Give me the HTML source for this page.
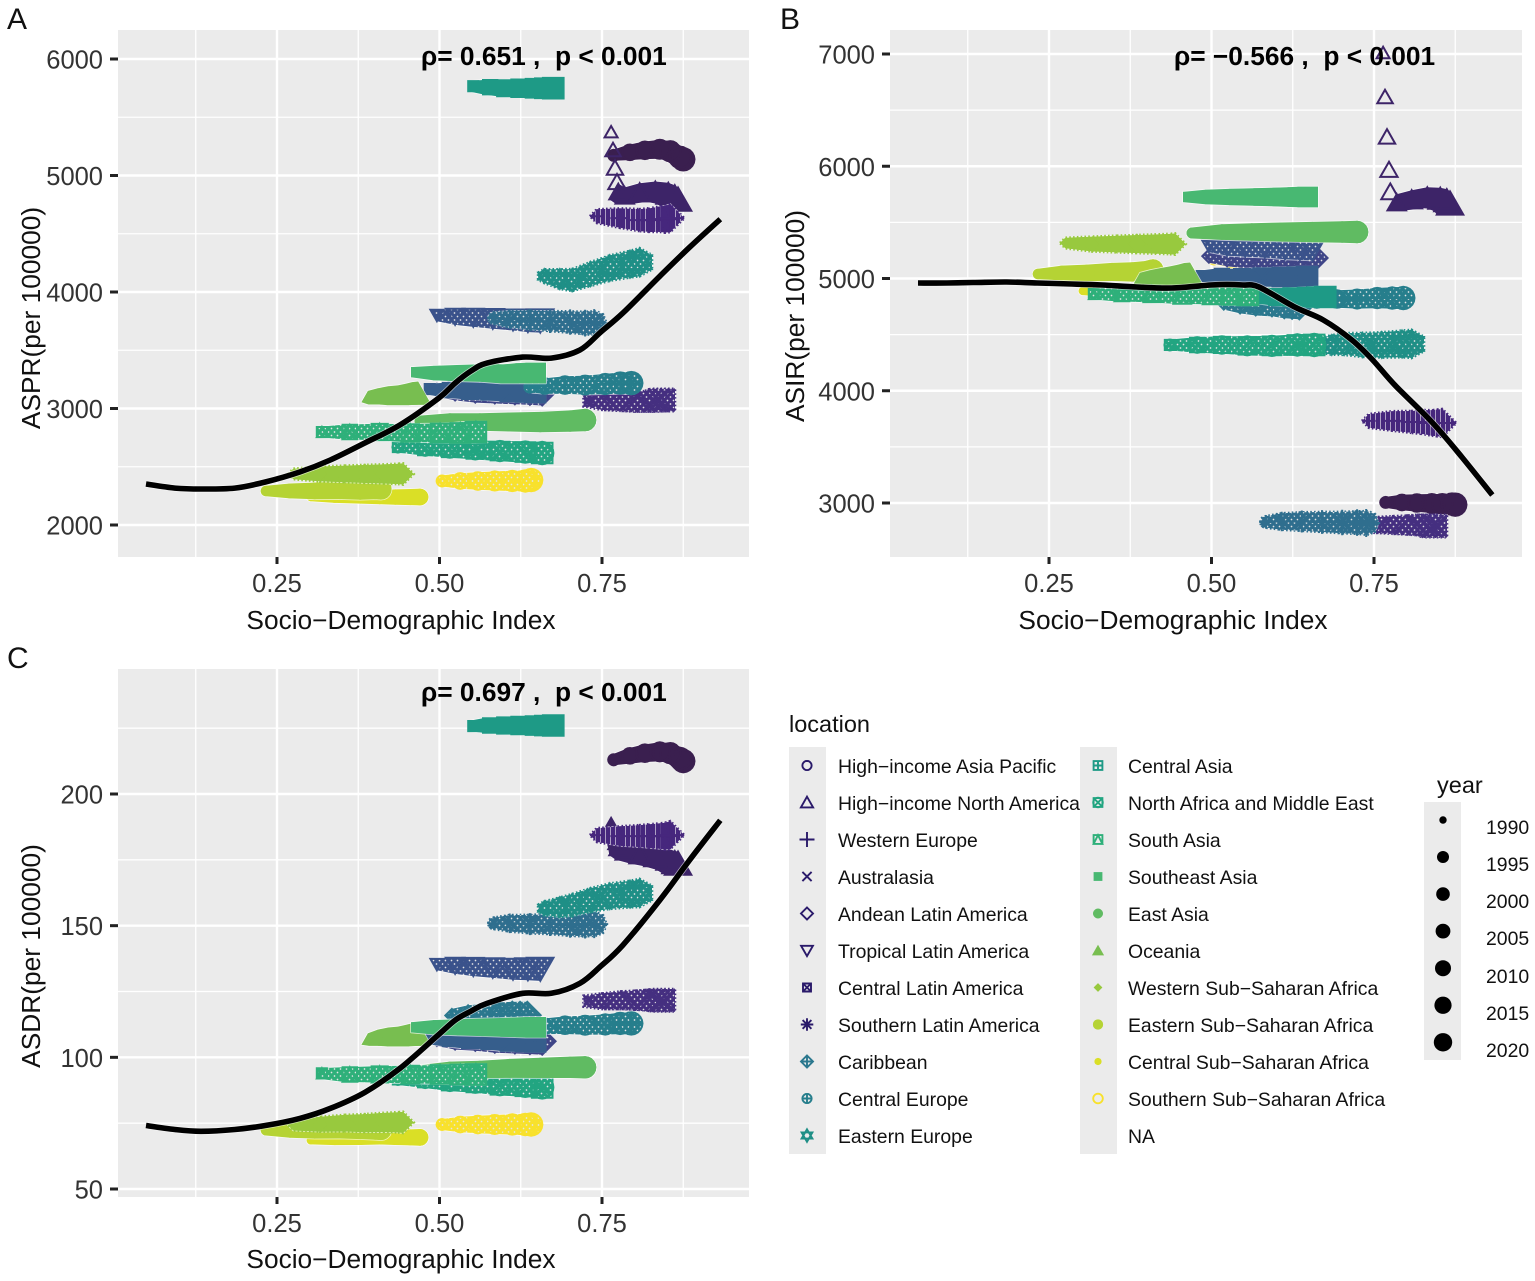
<!DOCTYPE html>
<html lang="en">
<head>
<meta charset="utf-8">
<title>SDI correlation panels</title>
<style>
html,body{margin:0;padding:0;background:#fff;width:1535px;height:1281px;overflow:hidden}
svg{display:block}
text{font-family:"Liberation Sans",Arial,sans-serif;white-space:pre}
.tick{font-size:25.5px;fill:#333}
.title{font-size:26.3px;fill:#111}
.anno{font-size:26.3px;font-weight:bold;fill:#000}
.tag{font-size:30px;fill:#111}
.leg{font-size:19.4px;fill:#111}
.legt{font-size:23.5px;fill:#111}
</style>
</head>
<body>
<svg id="chart" xmlns="http://www.w3.org/2000/svg" width="1535" height="1281" viewBox="0 0 1535 1281">
  <defs>
    <pattern id="dots" width="6" height="7" patternUnits="userSpaceOnUse">
      <circle cx="1.5" cy="1.5" r="0.85" fill="#e4e4e4"/>
      <circle cx="4.5" cy="5" r="0.85" fill="#e4e4e4"/>
    </pattern>
    <pattern id="stripes" width="5" height="20" patternUnits="userSpaceOnUse">
      <rect x="0" y="0" width="1" height="20" fill="#cfc6dc" opacity="0.75"/>
    </pattern>
  </defs>

  <text class="tag" x="7" y="29">A</text>
  <text class="tag" x="780" y="29">B</text>
  <text class="tag" x="7" y="668">C</text>

  <g id="panel-a"></g>
  <g id="panel-b"></g>
  <g id="panel-c"></g>

  <text class="anno" x="421" y="65">ρ= 0.651 ,  p &lt; 0.001</text>
  <text class="anno" x="1174" y="65">ρ= −0.566 ,  p &lt; 0.001</text>
  <text class="anno" x="421" y="701">ρ= 0.697 ,  p &lt; 0.001</text>

  <text class="title" x="401" y="629" text-anchor="middle">Socio−Demographic Index</text>
  <text class="title" x="1173" y="629" text-anchor="middle">Socio−Demographic Index</text>
  <text class="title" x="401" y="1268" text-anchor="middle">Socio−Demographic Index</text>
  <text class="title" transform="translate(40,318) rotate(-90)" text-anchor="middle">ASPR(per 100000)</text>
  <text class="title" transform="translate(804,316) rotate(-90)" text-anchor="middle">ASIR(per 100000)</text>
  <text class="title" transform="translate(40,956) rotate(-90)" text-anchor="middle">ASDR(per 100000)</text>

  <g>
    <text class="legt" x="789" y="732">location</text>
    <rect x="789" y="747" width="37" height="407" fill="#ebebeb"/>
    <rect x="1080" y="747" width="37" height="407" fill="#ebebeb"/>
    <g id="legend-keys"></g>
    <text class="leg" x="838" y="773">High−income Asia Pacific</text>
    <text class="leg" x="838" y="810">High−income North America</text>
    <text class="leg" x="838" y="847">Western Europe</text>
    <text class="leg" x="838" y="884">Australasia</text>
    <text class="leg" x="838" y="921">Andean Latin America</text>
    <text class="leg" x="838" y="958">Tropical Latin America</text>
    <text class="leg" x="838" y="995">Central Latin America</text>
    <text class="leg" x="838" y="1032">Southern Latin America</text>
    <text class="leg" x="838" y="1069">Caribbean</text>
    <text class="leg" x="838" y="1106">Central Europe</text>
    <text class="leg" x="838" y="1143">Eastern Europe</text>
    <text class="leg" x="1128" y="773">Central Asia</text>
    <text class="leg" x="1128" y="810">North Africa and Middle East</text>
    <text class="leg" x="1128" y="847">South Asia</text>
    <text class="leg" x="1128" y="884">Southeast Asia</text>
    <text class="leg" x="1128" y="921">East Asia</text>
    <text class="leg" x="1128" y="958">Oceania</text>
    <text class="leg" x="1128" y="995">Western Sub−Saharan Africa</text>
    <text class="leg" x="1128" y="1032">Eastern Sub−Saharan Africa</text>
    <text class="leg" x="1128" y="1069">Central Sub−Saharan Africa</text>
    <text class="leg" x="1128" y="1106">Southern Sub−Saharan Africa</text>
    <text class="leg" x="1128" y="1143">NA</text>
  </g>

  <g>
    <text class="legt" x="1437" y="793">year</text>
    <rect x="1424" y="802" width="37" height="258" fill="#ebebeb"/>
    <g id="year-keys"></g>
    <text class="leg" x="1486" y="834">1990</text>
    <text class="leg" x="1486" y="871">1995</text>
    <text class="leg" x="1486" y="908">2000</text>
    <text class="leg" x="1486" y="945">2005</text>
    <text class="leg" x="1486" y="983">2010</text>
    <text class="leg" x="1486" y="1020">2015</text>
    <text class="leg" x="1486" y="1057">2020</text>
  </g>
</svg>

<script>
// ---------- chart data ----------
const regionNames = ["high-income-asia-pacific","high-income-north-america","western-europe","australasia","andean-latin-america","tropical-latin-america","central-latin-america","southern-latin-america","caribbean","central-europe","eastern-europe","central-asia","north-africa-middle-east","south-asia","southeast-asia","east-asia","oceania","western-ssa","eastern-ssa","central-ssa","southern-ssa"];
const standardYears = [1990,1995,2000,2005,2010,2015,2020];
const hinaYears = [1990,1991,1992,1993,1994,1995,2000,2005,2010,2015,2020];

const sdiValues = [
 [.768,.793,.816,.839,.855,.870,.875],
 [.764,.767,.770,.773,.775,.785,.808,.832,.852,.862,.867],
 [.742,.778,.808,.824,.839,.847,.855],
 [.730,.762,.793,.816,.832,.839,.845],
 [.496,.524,.555,.585,.616,.639,.658],
 [.496,.524,.552,.582,.613,.636,.655],
 [.485,.516,.547,.578,.608,.632,.647],
 [.584,.608,.639,.670,.701,.724,.738],
 [.519,.544,.568,.593,.612,.624,.635],
 [.639,.662,.693,.724,.755,.778,.795],
 [.661,.685,.704,.732,.762,.793,.808],
 [.552,.578,.601,.624,.647,.662,.675],
 [.436,.478,.516,.555,.593,.632,.658],
 [.319,.362,.408,.455,.501,.532,.556],
 [.464,.501,.539,.578,.608,.632,.648],
 [.470,.516,.562,.608,.655,.701,.724],
 [.390,.405,.421,.436,.448,.458,.467],
 [.275,.316,.355,.385,.416,.436,.444],
 [.233,.270,.308,.347,.378,.401,.410],
 [.302,.339,.378,.408,.432,.455,.470],
 [.504,.532,.559,.585,.612,.632,.641]
];
const asprValues = [
 [5173,5199,5216,5225,5208,5156,5139],
 [5372,5218,5064,4943,4857,4823,4849,4857,4840,4814,4789],
 [4651,4634,4617,4617,4625,4625,4634],
 [3064,3055,3055,3055,3064,3073,3073],
 [3158,3150,3141,3141,3141,3141,3141],
 [3802,3793,3785,3776,3767,3759,3759],
 [3167,3158,3150,3150,3141,3141,3141],
 [3776,3767,3759,3750,3742,3733,3733],
 [3201,3201,3201,3193,3193,3193,3193],
 [3184,3193,3201,3201,3210,3218,3218],
 [4136,4111,4102,4154,4205,4239,4256],
 [5767,5758,5749,5749,5749,5749,5749],
 [2669,2661,2652,2644,2635,2626,2618],
 [2798,2798,2798,2790,2790,2790,2798],
 [3312,3304,3304,3304,3296,3304,3304],
 [2892,2892,2884,2884,2884,2892,2901],
 [3098,3098,3107,3107,3115,3124,3124],
 [2438,2438,2438,2438,2438,2438,2438],
 [2292,2292,2292,2300,2300,2309,2309],
 [2240,2240,2240,2240,2240,2240,2240],
 [2378,2378,2378,2378,2378,2378,2386]
];
const asirValues = [
 [3005,3005,3000,2995,2990,2990,2985],
 [7009,6617,6261,5967,5771,5673,5699,5717,5708,5690,5664],
 [3731,3731,3722,3722,3713,3713,3713],
 [2804,2804,2804,2804,2804,2795,2795],
 [5200,5192,5183,5183,5183,5183,5183],
 [5290,5281,5281,5281,5272,5272,5272],
 [5022,5022,5013,5013,5013,5013,5013],
 [2831,2835,2835,2831,2826,2826,2822],
 [4782,4773,4764,4764,4755,4755,4755],
 [4809,4809,4817,4817,4826,4826,4826],
 [4408,4408,4417,4408,4408,4417,4417],
 [4844,4844,4835,4835,4835,4835,4835],
 [4408,4408,4408,4400,4400,4408,4408],
 [4862,4862,4862,4853,4853,4853,4853],
 [5726,5726,5726,5726,5726,5726,5726],
 [5405,5414,5414,5414,5414,5414,5414],
 [4996,4996,5005,5013,5022,5031,5031],
 [5316,5307,5307,5307,5307,5307,5307],
 [5040,5049,5049,5058,5058,5067,5076],
 [4889,4889,4889,4889,4889,4889,4889],
 [5174,5165,5156,5147,5138,5129,5120]
];
const asdrValues = [
 [213,214.5,215.5,216,215.5,213.5,212.5],
 [188.6,186.3,184,181.7,179.5,177.9,176.8,176,174.9,173.8,173.4],
 [184.4,184,184,184,184,184,184.4],
 [121.3,121.3,121.7,121.7,121.7,121.7,121.7],
 [106.8,106.5,106.5,106.1,106.1,106.1,106.1],
 [135.4,135,134.6,134.2,133.8,133.8,133.8],
 [107,107,106.5,106.5,106,106,106],
 [150.9,150.9,150.6,150.6,150.2,150.2,150.6],
 [115.9,116.2,116.3,116.5,116.5,116.2,116],
 [111.8,111.8,112.2,112.2,112.5,112.9,112.9],
 [156.6,157,157.8,159.7,161.2,162,162.4],
 [225.8,226,226,226,226,226,226],
 [91.6,91.3,90.5,90.1,89.4,89,88.6],
 [93.9,93.5,93.5,93.5,93.5,93.5,93.5],
 [111.4,111.4,111.4,111.4,111.4,111.4,111.4],
 [95,95.4,95.4,95.8,96,96.2,96.2],
 [106.8,107.2,107.6,107.6,108,108.4,108.4],
 [74.2,74.6,75,75,75.3,75.3,75.3],
 [72.3,72.3,72.3,72.6,72.6,72.6,72.6],
 [68.5,68.9,69.2,69.6,69.6,69.6,69.6],
 [74.5,74.5,74.5,74.5,74.5,74.5,74.5]
];

const smoothSdi = [.0485,.093,.133,.185,.232,.285,.332,.385,.439,.499,.524,.548,.573,.628,.672,.716,.748,.782,.839,.885,.932];
const smoothAspr = [2352,2317,2309,2317,2369,2455,2558,2704,2858,3090,3218,3320,3390,3441,3433,3502,3656,3819,4136,4385,4625];
const smoothAsir = [4960,4960,4964,4969,4960,4951,4942,4924,4915,4942,4947,4942,4924,4746,4630,4452,4274,4051,3722,3410,3071];
const smoothAsdr = [74.1,72.6,71.9,72.6,74.1,76.8,80.6,86.7,95.8,108.7,114.1,117.5,120.5,124.3,124.3,128.1,134.6,142.6,159.7,175,190];

const xTickLabels = ["0.25","0.50","0.75"];
const xTickValues = [0.25,0.5,0.75];
const xMinorValues = [0.125,0.375,0.625,0.875];
const aprTickValues = [2000,3000,4000,5000,6000];
const aprMinorValues = [2500,3500,4500,5500];
const asirTickValues = [3000,4000,5000,6000,7000];
const asirMinorValues = [3500,4500,5500,6500];
const asdrTickValues = [50,100,150,200];
const asdrMinorValues = [75,125,175,225];
const legendYears = [1990,1995,2000,2005,2010,2015,2020];

// ---------- styling ----------
const regionColors = ["#3a1f4f","#3d2468","#46277d","#452f80","#3f4587","#3a528b","#365e8c","#2f6e8e","#2b788e","#267e8c","#1f8f86","#1e9a86","#22a581","#2eb07a","#48b872","#60bb62","#78be50","#98c93e","#b5d334","#dadf26","#f8e12c"];
const regionShapes = ["circle","triangle","plus","cross","diamond","invtriangle","squarecross","asterisk","diamondplus","circleplus","star","squareplus","circlecross","squaretriangle","square","disc","filltriangle","smalldiamond","bigdisc","smalldisc","circle"];
const dottedRegions = [3,4,5,7,8,9,10,12,13,20];
const stripedRegions = [2];
const serratedRegions = [2,3,7,10,17];
const drawOrder = [20,0,1,2,3,8,4,5,6,7,9,10,11,12,19,18,17,16,15,14,13];

const NS = "http://www.w3.org/2000/svg";
function make(tag, parent, attrs){
  const el = document.createElementNS(NS, tag);
  for (const k in attrs) el.setAttribute(k, attrs[k]);
  parent.appendChild(el);
  return el;
}
function linear(d0, d1, r0, r1){ return v => r0 + (v - d0) * (r1 - r0) / (d1 - d0); }
function sizeForYear(y){ return 5.5 + 5.7 * Math.sqrt((y - 1990) / 30); }

function circlePts(cx, cy, r){
  const a = [];
  for (let i = 0; i < 20; i++) a.push([cx + r * Math.cos(i * Math.PI / 10), cy + r * Math.sin(i * Math.PI / 10)]);
  return a;
}
function outline(shape, cx, cy, r){
  switch (shape){
    case "circle": case "disc": case "circleplus": case "circlecross": return circlePts(cx, cy, r);
    case "bigdisc": return circlePts(cx, cy, r * 0.95);
    case "smalldisc": return circlePts(cx, cy, r * 0.75);
    case "triangle": case "filltriangle": return [[cx, cy - 1.12 * r], [cx + 1.18 * r, cy + 0.95 * r], [cx - 1.18 * r, cy + 0.95 * r]];
    case "invtriangle": return [[cx - 1.18 * r, cy - 0.95 * r], [cx + 1.18 * r, cy - 0.95 * r], [cx, cy + 1.12 * r]];
    case "diamond": case "diamondplus": return [[cx, cy - 1.2 * r], [cx + 1.2 * r, cy], [cx, cy + 1.2 * r], [cx - 1.2 * r, cy]];
    case "smalldiamond": return [[cx, cy - 0.95 * r], [cx + 0.95 * r, cy], [cx, cy + 0.95 * r], [cx - 0.95 * r, cy]];
    case "plus": return [[cx, cy - 1.25 * r], [cx + 1.25 * r, cy], [cx, cy + 1.25 * r], [cx - 1.25 * r, cy]];
    case "cross": return [[cx - r, cy - r], [cx + r, cy - r], [cx + r, cy + r], [cx - r, cy + r]];
    case "asterisk": return circlePts(cx, cy, 1.05 * r);
    case "star": return [[cx, cy - 1.25 * r], [cx + 1.1 * r, cy - 0.65 * r], [cx + 1.1 * r, cy + 0.65 * r], [cx, cy + 1.25 * r], [cx - 1.1 * r, cy + 0.65 * r], [cx - 1.1 * r, cy - 0.65 * r]];
    default: { const h = r * 0.92; return [[cx - h, cy - h], [cx + h, cy - h], [cx + h, cy + h], [cx - h, cy + h]]; }
  }
}
function polyD(pts){ return "M" + pts.map(p => p[0].toFixed(1) + " " + p[1].toFixed(1)).join("L") + "Z"; }
function convexHull(pts){
  const s = pts.slice().sort((a, b) => a[0] - b[0] || a[1] - b[1]);
  const cross = (o, a, b) => (a[0] - o[0]) * (b[1] - o[1]) - (a[1] - o[1]) * (b[0] - o[0]);
  const lo = [], up = [];
  for (const p of s){ while (lo.length > 1 && cross(lo[lo.length - 2], lo[lo.length - 1], p) <= 0) lo.pop(); lo.push(p); }
  for (let i = s.length - 1; i >= 0; i--){ const p = s[i]; while (up.length > 1 && cross(up[up.length - 2], up[up.length - 1], p) <= 0) up.pop(); up.push(p); }
  lo.pop(); up.pop();
  return lo.concat(up);
}
function symbolPath(shape, cx, cy, r){
  const o = polyD(outline(shape, cx, cy, r));
  const a = 1.25 * r, b = r * 0.92, c = 1.2 * r;
  const seg = (x1, y1, x2, y2) => "M" + (cx + x1).toFixed(1) + " " + (cy + y1).toFixed(1) + "L" + (cx + x2).toFixed(1) + " " + (cy + y2).toFixed(1);
  switch (shape){
    case "plus": return seg(-a, 0, a, 0) + seg(0, -a, 0, a);
    case "cross": return seg(-r, -r, r, r) + seg(-r, r, r, -r);
    case "asterisk": return seg(-a, 0, a, 0) + seg(-r * .87, -r * .87, r * .87, r * .87) + seg(-r * .87, r * .87, r * .87, -r * .87) + seg(0, -a, 0, a);
    case "squarecross": return o + seg(-b, -b, b, b) + seg(-b, b, b, -b);
    case "squareplus": return o + seg(-b, 0, b, 0) + seg(0, -b, 0, b);
    case "diamondplus": return o + seg(-c, 0, c, 0) + seg(0, -c, 0, c);
    case "circleplus": return o + seg(-r, 0, r, 0) + seg(0, -r, 0, r);
    case "circlecross": return o + seg(-r * .7, -r * .7, r * .7, r * .7) + seg(-r * .7, r * .7, r * .7, -r * .7) + polyD([[cx - b, cy - b], [cx + b, cy - b], [cx + b, cy + b], [cx - b, cy + b]]);
    case "squaretriangle": return o + polyD([[cx, cy - b], [cx + b, cy + b], [cx - b, cy + b]]);
    case "star": return polyD([[cx, cy - a], [cx + 1.08 * r, cy + .62 * r], [cx - 1.08 * r, cy + .62 * r]]) + polyD([[cx, cy + a], [cx + 1.08 * r, cy - .62 * r], [cx - 1.08 * r, cy - .62 * r]]);
    default: return o;
  }
}
const filledShapes = ["square","disc","filltriangle","smalldiamond","bigdisc","smalldisc"];

function smoothPath(pts){
  let d = "M" + pts[0][0].toFixed(1) + " " + pts[0][1].toFixed(1);
  for (let i = 0; i < pts.length - 1; i++){
    const p0 = pts[Math.max(0, i - 1)], p1 = pts[i], p2 = pts[i + 1], p3 = pts[Math.min(pts.length - 1, i + 2)];
    d += "C" + (p1[0] + (p2[0] - p0[0]) / 6).toFixed(1) + " " + (p1[1] + (p2[1] - p0[1]) / 6).toFixed(1) + " " +
         (p2[0] - (p3[0] - p1[0]) / 6).toFixed(1) + " " + (p2[1] - (p3[1] - p1[1]) / 6).toFixed(1) + " " +
         p2[0].toFixed(1) + " " + p2[1].toFixed(1);
  }
  return d;
}

function drawPanel(cfg){
  const root = document.getElementById(cfg.id);
  const xS = linear(0.25, 0.75, cfg.x025, cfg.x075);
  const yS = linear(cfg.yD0, cfg.yD1, cfg.yR0, cfg.yR1);

  const bg = make("rect", root, {x: cfg.left, y: cfg.top, width: cfg.right - cfg.left, height: cfg.bottom - cfg.top, fill: "#ebebeb"});
  
  

  xMinorValues.forEach(v => {
    const l = make("line", root, {x1: xS(v), x2: xS(v), y1: cfg.top, y2: cfg.bottom, stroke: "#fff", "stroke-width": 1.3});
    
    
  });
  cfg.yMinor.forEach(v => {
    const l = make("line", root, {x1: cfg.left, x2: cfg.right, y1: yS(v), y2: yS(v), stroke: "#fff", "stroke-width": 1.3});
    
    
  });
  xTickValues.forEach((v, i) => {
    const g = make("line", root, {x1: xS(v), x2: xS(v), y1: cfg.top, y2: cfg.bottom, stroke: "#fff", "stroke-width": 2.4});
    
    
    const t = make("line", root, {x1: xS(v), x2: xS(v), y1: cfg.bottom, y2: cfg.bottom + 7, stroke: "#222", "stroke-width": 3});
    
    
    const lab = make("text", root, {x: xS(v), y: cfg.bottom + 35, "text-anchor": "middle", "class": "tick"});
    
    
    lab.textContent = xTickLabels[i];
  });
  cfg.yTicks.forEach(v => {
    const g = make("line", root, {x1: cfg.left, x2: cfg.right, y1: yS(v), y2: yS(v), stroke: "#fff", "stroke-width": 2.4});
    
    
    const t = make("line", root, {x1: cfg.left - 8, x2: cfg.left, y1: yS(v), y2: yS(v), stroke: "#222", "stroke-width": 3});
    
    
    const lab = make("text", root, {x: cfg.left - 15, y: yS(v) + 9.5, "text-anchor": "end", "class": "tick"});
    
    
    lab.textContent = String(v);
  });

  drawOrder.forEach(i => {
    const name = regionNames[i];
    const years = i === 1 ? hinaYears : standardYears;
    const g = make("g", root, {});
    
    
    const pts = sdiValues[i].map((s, k) => ({x: xS(s), y: yS(cfg.values[i][k]), r: sizeForYear(years[k]), yr: years[k]}));
    let d = "";
    for (let k = 0; k < pts.length - 1; k++){
      const a = pts[k], b = pts[k + 1];
      const gap = b.yr - a.yr, dist = Math.hypot(b.x - a.x, b.y - a.y);
      if (gap < 5 && dist > Math.max(a.r, b.r) * 1.1) continue;
      d += polyD(convexHull(outline(regionShapes[i], a.x, a.y, a.r).concat(outline(regionShapes[i], b.x, b.y, b.r))));
    }
    const halo = make("path", g, {d: d, fill: "none", stroke: "#fff", "stroke-width": 1.6, "stroke-opacity": 0.7, "stroke-linejoin": "round"});
    
    
    const trail = make("path", g, {d: d, fill: regionColors[i]});
    
    
    if (serratedRegions.includes(i)){
      const teeth = make("path", g, {d: d, fill: "none", stroke: regionColors[i], "stroke-width": 2.6, "stroke-dasharray": "1.6 2.2"});
      
      
    }
    if (dottedRegions.includes(i) || stripedRegions.includes(i)){
      const tex = make("path", g, {d: d, fill: stripedRegions.includes(i) ? "url(#stripes)" : "url(#dots)"});
      
      
    }
    pts.forEach((p, k) => {
      const filled = filledShapes.includes(regionShapes[i]);
      const mark = make("path", g, {
        d: symbolPath(regionShapes[i], p.x, p.y, p.r),
        fill: filled ? regionColors[i] : "none",
        stroke: filled ? "none" : regionColors[i],
        "stroke-width": 2
      });
      
      
    });
  });

  const linePts = smoothSdi.map((s, k) => [xS(s), yS(cfg.smooth[k])]);
  const lineD = smoothPath(linePts);
  const lineHalo = make("path", root, {d: lineD, fill: "none", stroke: "#fff", "stroke-width": 7, "stroke-opacity": 0.6});
  
  
  const line = make("path", root, {d: lineD, fill: "none", stroke: "#000", "stroke-width": 5.6});
  
  
}

drawPanel({id: "panel-a", left: 118, right: 749, top: 30, bottom: 557, x025: 277, x075: 602,
  yD0: 2000, yD1: 6000, yR0: 525, yR1: 59, yTicks: aprTickValues, yMinor: aprMinorValues, values: asprValues, smooth: smoothAspr});
drawPanel({id: "panel-b", left: 890, right: 1522, top: 30, bottom: 557, x025: 1049, x075: 1374,
  yD0: 3000, yD1: 7000, yR0: 503, yR1: 54, yTicks: asirTickValues, yMinor: asirMinorValues, values: asirValues, smooth: smoothAsir});
drawPanel({id: "panel-c", left: 118, right: 749, top: 669, bottom: 1197, x025: 277, x075: 602,
  yD0: 50, yD1: 200, yR0: 1189, yR1: 794, yTicks: asdrTickValues, yMinor: asdrMinorValues, values: asdrValues, smooth: smoothAsdr});

// ---------- legends ----------
const legendKeys = document.getElementById("legend-keys");
const legendRadius = [4.6,5.2,6,4.6,5,5,4.4,5,5,4.6,5,4.8,4.8,4.8,4.8,5,5.2,4.6,5.4,4.8,4.8];
regionNames.forEach((name, i) => {
  const col = i < 11 ? 807 : 1098;
  const row = i < 11 ? i : i - 11;
  const cy = 765.5 + row * 37;
  const filled = filledShapes.includes(regionShapes[i]);
  const key = make("path", legendKeys, {
    d: symbolPath(regionShapes[i], col, cy, legendRadius[i]),
    fill: filled ? regionColors[i] : "none",
    stroke: filled ? "none" : (i < 8 ? "#2a1a6a" : regionColors[i]),
    "stroke-width": 1.9
  });
  
  
});

const yearKeys = document.getElementById("year-keys");
const yearRadius = [3.7,6,6.8,7.4,8,8.6,9.2];
legendYears.forEach((yr, i) => {
  const dot = make("circle", yearKeys, {cx: 1443, cy: 820 + i * 37.05, r: yearRadius[i], fill: "#000"});
  
  
});
</script>
</body>
</html>
